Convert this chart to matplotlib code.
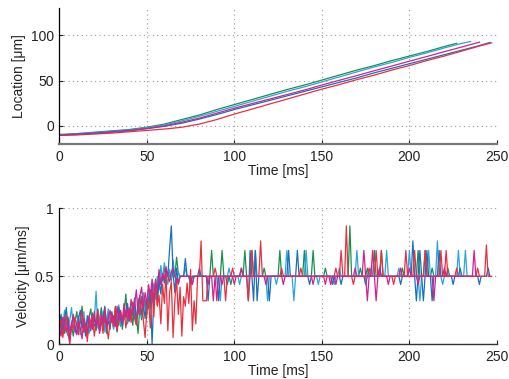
import numpy as np
import matplotlib
matplotlib.use("Agg")
import matplotlib.pyplot as plt

plt.rcParams['font.family'] = ['Liberation Sans', 'DejaVu Sans']

# ---------------- data ----------------
series_names = ["green", "cyan", "blue", "red", "magenta"]
colors = {"green": "#1a8f50", "cyan": "#2aa6de", "blue": "#1a6fbc",
          "red": "#ec2f3e", "magenta": "#d2228c"}

# Location [um], sampled every 10 ms (last point at the series end time)
loc_t = {
    "green":   [0,10,20,30,40,50,60,70,80,90,100,110,120,130,140,150,160,170,180,190,200,210,220,227],
    "cyan":    [0,10,20,30,40,50,60,70,80,90,100,110,120,130,140,150,160,170,180,190,200,210,220,230,235],
    "magenta": [0,10,20,30,40,50,60,70,80,90,100,110,120,130,140,150,160,170,180,190,200,210,220,230,240],
    "blue":    [0,10,20,30,40,50,60,70,80,90,100,110,120,130,140,150,160,170,180,190,200,210,220,230,240,246],
    "red":     [0,10,20,30,40,50,60,70,80,90,100,110,120,130,140,150,160,170,180,190,200,210,220,230,240,247],
}
loc_y = {
    "green":   [-9.5,-8.5,-7,-5.5,-4,-1.5,2,7,12,18,23.5,29,34.5,40,45,50.5,56,61.5,66.5,72,77,82,87.5,91],
    "cyan":    [-10,-9,-7.5,-6,-4.5,-2,1,5.5,10.5,16,21.5,27,32.5,38,43,48.5,54,59.5,65,70,75.5,80.5,86,91,93],
    "magenta": [-10.5,-9.5,-8.5,-7,-5.5,-3,0,4,8.5,14,19.5,24.5,29.5,34.5,39.5,45,50.3,55.5,60.8,66,71.3,76.5,81.8,87,92.3],
    "blue":    [-10,-9,-8,-6.5,-5,-3,-0.5,3,7.5,12.5,18,23,28,33,38,43,48,53,58.5,63.5,68.5,73.5,78.5,83.5,88.5,92],
    "red":     [-10.5,-10,-9,-8,-6.5,-5,-3.5,-1.5,2,7,13,18.5,24,29.5,35,40.5,45.5,51,56,61.5,66.5,72,77,82.5,88,91.5],
}

# Velocity [um/ms], one value per ms starting at t = 0
vel = {}
vel["green"] = [
    .22,.12,.18,.08,.15,.20,.10,.14,.06,.17,
    .24,.11,.16,.28,.09,.13,.05,.20,.26,.12,
    .15,.10,.22,.18,.27,.13,.19,.08,.24,.16,
    .21,.12,.28,.17,.14,.25,.11,.22,.37,.16,
    .19,.26,.14,.30,.22,.08,.28,.18,.25,.33,
    .21,.38,.27,.44,.30,.48,.36,.52,.44,.50,
    .56,.48,.53,.50,.47,.55,.50,.64,.52,.50,
    .5,.5,.5,.5,.5,.44,.5,.5,.5,.5,
    .5,.5,.5,.5,.5,.5,.5,.69,.5,.5,
    .5,.5,.5,.69,.5,.5,.5,.5,.44,.5,
    .5,.5,.5,.5,.56,.5,.69,.5,.5,.5,
    .69,.5,.5,.5,.5,.5,.5,.56,.5,.5,
    .5,.5,.5,.5,.5,.5,.69,.5,.5,.5,
    .5,.5,.5,.5,.5,.5,.5,.5,.5,.5,
    .69,.5,.5,.5,.5,.69,.5,.5,.5,.5,
    .5,.5,.56,.5,.5,.5,.5,.5,.5,.5,
    .5,.5,.5,.5,.5,.5,.87,.5,.5,.5,
    .5,.5,.56,.5,.5,.5,.56,.5,.5,.5,
    .69,.5,.5,.5,.69,.5,.5,.5,.5,.5,
    .5,.5,.5,.5,.5,.5,.56,.5,.5,.5,
    .5,.5,.5,.5,.5,.69,.5,.5,.5,.69,
    .5,.5,.5,.56,.5,.5,.5,.5,.5,.5,
    .5,.5,.56,.5,.5,.5,.5,.5,
]
vel["cyan"] = [
    .20,.08,.14,.25,.10,.06,.18,.27,.12,.09,
    .16,.21,.07,.14,.24,.11,.19,.08,.13,.22,
    .17,.39,.12,.20,.15,.24,.09,.18,.26,.14,
    .20,.11,.23,.16,.29,.13,.21,.18,.25,.15,
    .27,.19,.31,.22,.16,.34,.25,.20,.38,.28,
    .24,.42,.31,.36,.45,.33,.50,.40,.58,.47,
    .60,.52,.44,.55,.48,.62,.50,.46,.53,.50,
    .5,.5,.56,.5,.5,.5,.44,.5,.5,.5,
    .5,.5,.5,.5,.5,.44,.5,.5,.5,.5,
    .5,.5,.32,.5,.5,.5,.5,.56,.5,.5,
    .5,.5,.5,.44,.5,.5,.5,.5,.5,.5,
    .5,.5,.69,.5,.5,.5,.5,.5,.5,.32,
    .5,.5,.5,.5,.44,.5,.5,.5,.5,.5,
    .69,.5,.5,.5,.32,.5,.5,.5,.5,.5,
    .5,.69,.5,.5,.5,.5,.5,.5,.44,.5,
    .5,.5,.5,.5,.5,.5,.5,.44,.5,.5,
    .56,.5,.5,.5,.5,.5,.5,.5,.5,.5,
    .69,.5,.5,.5,.5,.5,.5,.5,.56,.5,
    .5,.5,.5,.5,.5,.5,.5,.69,.5,.5,
    .5,.5,.5,.5,.56,.5,.5,.5,.5,.5,
    .69,.5,.5,.5,.5,.5,.32,.5,.5,.5,
    .5,.69,.5,.5,.5,.5,.76,.5,.5,.44,
    .5,.5,.5,.5,.5,.5,.5,.5,.69,.5,
    .5,.5,.69,.5,.5,.5,
]
vel["blue"] = [
    .15,.22,.09,.18,.27,.11,.05,.16,.20,.13,
    .08,.19,.25,.12,.17,.06,.21,.14,.10,.23,
    .18,.12,.26,.09,.15,.20,.28,.13,.17,.11,
    .24,.16,.21,.09,.27,.18,.14,.23,.20,.30,
    .17,.25,.21,.34,.15,.28,.36,.22,.30,.19,
    .32,.26,.40,.00,.35,.44,.29,.48,.37,.52,
    .45,.55,.50,.70,.87,.52,.38,.56,.45,.50,
    .5,.5,.63,.5,.5,.44,.5,.5,.5,.5,
    .56,.5,.5,.5,.5,.32,.5,.5,.5,.5,
    .5,.32,.5,.5,.5,.5,.44,.5,.5,.5,
    .5,.5,.5,.5,.5,.5,.5,.5,.32,.69,
    .5,.32,.69,.32,.5,.5,.5,.5,.5,.5,
    .32,.5,.5,.5,.5,.5,.5,.5,.5,.5,
    .5,.69,.5,.5,.5,.5,.69,.5,.5,.5,
    .5,.5,.5,.44,.5,.5,.5,.5,.5,.5,
    .5,.5,.5,.5,.5,.5,.44,.5,.5,.5,
    .5,.44,.5,.5,.5,.5,.5,.5,.5,.5,
    .5,.5,.5,.5,.5,.44,.5,.5,.5,.5,
    .5,.5,.5,.56,.5,.5,.5,.5,.5,.5,
    .5,.5,.5,.5,.5,.44,.5,.5,.5,.5,
    .5,.5,.76,.5,.32,.5,.69,.5,.32,.5,
    .69,.5,.5,.32,.5,.5,.5,.69,.5,.5,
    .5,.5,.5,.5,.5,.44,.5,.5,.5,.56,
    .5,.5,.5,.5,.5,.5,.5,.5,.5,.5,
    .44,.5,.5,.5,.5,.56,.5,
]
vel["red"] = [
    .10,.18,.05,.14,.22,.08,.00,.16,.11,.20,
    .13,.07,.19,.24,.09,.15,.02,.18,.12,.21,
    .06,.16,.25,.11,.19,.08,.23,.14,.04,.17,
    .22,.13,.27,.10,.18,.24,.15,.29,.12,.20,
    .26,.16,.31,.19,.14,.28,.22,.35,.18,.05,
    .25,.33,.12,.40,.20,.47,.28,.36,.15,.44,
    .30,.52,.10,.38,.46,.05,.32,.48,.22,.42,
    .06,.35,.28,.45,.30,.55,.10,.32,.15,.50,
    .5,.76,.32,.32,.32,.5,.5,.5,.5,.56,
    .5,.5,.5,.5,.5,.32,.5,.5,.5,.56,
    .5,.5,.5,.5,.5,.5,.5,.5,.32,.5,
    .69,.5,.5,.5,.5,.76,.5,.5,.5,.5,
    .5,.5,.5,.5,.5,.5,.5,.56,.5,.5,
    .5,.5,.5,.5,.5,.5,.5,.5,.56,.5,
    .5,.5,.5,.5,.5,.5,.5,.5,.5,.5,
    .5,.5,.5,.5,.5,.5,.5,.5,.56,.5,
    .5,.69,.5,.5,.87,.5,.5,.5,.44,.5,
    .5,.5,.5,.5,.5,.5,.5,.56,.5,.5,
    .5,.69,.5,.5,.69,.5,.5,.5,.5,.5,
    .5,.44,.5,.5,.5,.5,.5,.5,.69,.5,
    .5,.5,.5,.69,.5,.5,.5,.5,.5,.69,
    .5,.5,.5,.5,.5,.5,.5,.5,.69,.5,
    .5,.69,.5,.5,.5,.5,.5,.56,.5,.5,
    .5,.5,.5,.5,.5,.5,.5,.5,.5,.56,
    .5,.5,.5,.5,.73,.5,.5,.5,
]
vel["magenta"] = [
    .12,.06,.20,.15,.09,.18,.03,.13,.22,.10,
    .07,.17,.12,.04,.19,.14,.09,.21,.16,.11,
    .24,.13,.18,.08,.22,.15,.27,.12,.19,.25,
    .16,.21,.13,.28,.18,.24,.15,.30,.20,.26,
    .18,.33,.24,.29,.40,.22,.35,.42,.27,.38,
    .30,.44,.35,.48,.32,.46,.40,.55,.44,.52,
    .48,.57,.50,.46,.53,.56,.50,.48,.44,.50,
    .5,.5,.5,.5,.5,.5,.44,.5,.5,.5,
    .5,.5,.5,.5,.5,.44,.5,.5,.32,.5,
    .32,.5,.5,.44,.5,.5,.5,.5,.5,.5,
    .44,.5,.5,.5,.56,.5,.5,.5,.5,.5,
    .5,.5,.5,.5,.5,.5,.5,.5,.44,.5,
    .5,.5,.5,.5,.5,.5,.5,.5,.44,.5,
    .5,.5,.5,.5,.5,.5,.5,.5,.5,.5,
    .5,.5,.5,.5,.5,.44,.5,.5,.5,.5,
    .5,.5,.44,.5,.5,.44,.5,.5,.44,.5,
    .5,.5,.5,.5,.5,.5,.5,.5,.5,.56,
    .5,.5,.5,.5,.69,.5,.32,.5,.5,.69,
    .5,.32,.5,.56,.5,.5,.5,.5,.44,.5,
    .5,.5,.5,.5,.5,.56,.5,.5,.5,.5,
    .56,.5,.5,.5,.5,.44,.5,.5,.5,.5,
    .5,.5,.5,.5,.32,.5,.5,.5,.5,.5,
    .56,.5,.5,.5,.5,.5,.5,.5,.5,.5,
    .5,.5,.5,.5,.5,.5,.5,.69,.5,.5,.5,
]

x_ticks = [0, 50, 100, 150, 200, 250]
loc_ticks = [0, 50, 100]
vel_ticks = [0, 0.5, 1]
vel_ticklabels = ["0", "0.5", "1"]

# ---------------- figure ----------------
fig = plt.figure(figsize=(5.10, 3.79), dpi=100)
ax1 = fig.add_axes([0.1163, 0.620, 0.858, 0.359])
ax2 = fig.add_axes([0.1163, 0.0916, 0.858, 0.3588])

draw_order = ["green", "cyan", "blue", "red", "magenta"]

for name in draw_order:
    ax1.plot(loc_t[name], loc_y[name], color=colors[name], lw=0.9)
    v = vel[name]
    ax2.plot(np.arange(len(v)), v, color=colors[name], lw=0.9)

FS = 10

def style(ax, yticks, ylabels=None):
    ax.set_xlim(0, 250)
    ax.set_xticks(x_ticks)
    ax.set_yticks(yticks)
    if ylabels is not None:
        ax.set_yticklabels(ylabels)
    ax.spines['top'].set_visible(False)
    ax.spines['right'].set_visible(False)
    ax.spines['left'].set_color('black')
    ax.spines['left'].set_linewidth(0.9)
    ax.grid(True, linestyle=(0, (1, 3)), color='#9a9a9a', linewidth=0.8)
    ax.set_axisbelow(True)
    ax.tick_params(direction='in', length=3, width=0.8, labelsize=FS,
                   colors='#222222', pad=4)
    ax.set_xlabel("Time [ms]", fontsize=FS, labelpad=0, color='#222222')

style(ax1, loc_ticks)
ax1.set_ylim(-20, 130)
ax1.set_ylabel("Location [\u03bcm]", fontsize=FS, color='#222222', labelpad=3)
ax1.spines['bottom'].set_color('#777777')
ax1.spines['bottom'].set_linewidth(1.6)

style(ax2, vel_ticks, vel_ticklabels)
ax2.set_ylim(0, 1)
ax2.set_ylabel("Velocity [\u03bcm/ms]", fontsize=FS, color='#222222', labelpad=3)
ax2.spines['bottom'].set_color('#333333')
ax2.spines['bottom'].set_linewidth(1.0)

fig.savefig("out.png", dpi=100)
